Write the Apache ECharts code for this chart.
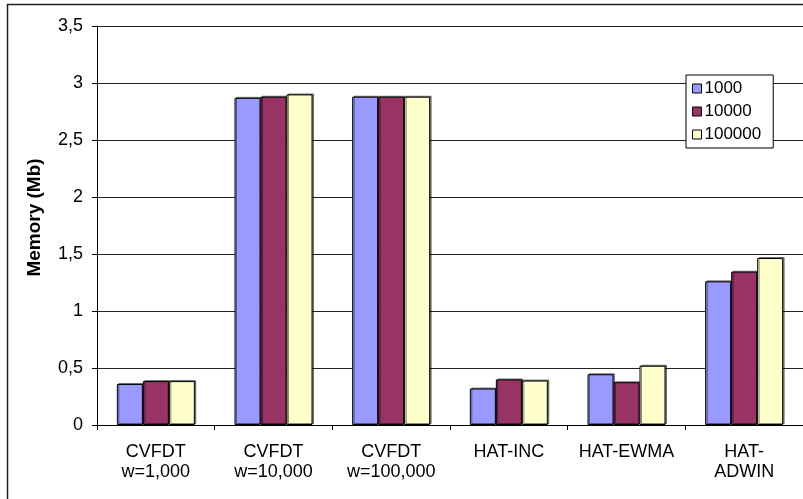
<!DOCTYPE html>
<html>
<head>
<meta charset="utf-8">
<script src="https://cdn.jsdelivr.net/npm/echarts@6/dist/echarts.min.js"></script>
<style>
html,body{margin:0;padding:0;background:#fff;}
#c{width:803px;height:499px;}
</style>
</head>
<body>
<div id="c"></div>
<script>
var categories = ['CVFDT\nw=1,000', 'CVFDT\nw=10,000', 'CVFDT\nw=100,000', 'HAT-INC', 'HAT-EWMA', 'HAT-\nADWIN'];
var seriesNames = ['1000', '10000', '100000'];
var s1000 = [0.36, 2.87, 2.88, 0.32, 0.445, 1.26];
var s10000 = [0.385, 2.88, 2.88, 0.40, 0.375, 1.345];
var s100000 = [0.385, 2.90, 2.88, 0.39, 0.52, 1.465];
var yTicks = [0, 0.5, 1, 1.5, 2, 2.5, 3, 3.5];

var colors = ['#9999FF', '#993366', '#FFFFCC'];
var font = 'Liberation Sans, Arial, sans-serif';
var chart = echarts.init(document.getElementById('c'), null, {renderer: 'canvas'});

function mk(name, data, i) {
  return {
    name: name, type: 'bar', data: data, barWidth: 26, barGap: '0%',
    itemStyle: {color: colors[i], borderColor: '#000', borderWidth: 1,
      shadowColor: 'rgba(0,0,0,0.45)', shadowOffsetX: 1.5, shadowOffsetY: -1, shadowBlur: 0}
  };
}

chart.setOption({
  animation: false,
  backgroundColor: '#fff',
  textStyle: {fontFamily: font},
  graphic: [{
    type: 'rect', shape: {x: 7.5, y: 4.5, width: 900, height: 600},
    style: {fill: 'none', stroke: '#222', lineWidth: 1.5}, z: 100, silent: true
  }],
  grid: {left: 97, top: 26, width: 708, height: 399},
  legend: {
    orient: 'vertical', left: 686, top: 75,
    backgroundColor: '#fff', borderColor: '#000', borderWidth: 1,
    padding: [5, 12, 5, 6],
    itemWidth: 9, itemHeight: 9, itemGap: 6,
    icon: 'rect',
    textStyle: {fontFamily: font, fontSize: 17, color: '#000', padding: [0, 0, 0, -2]},
    itemStyle: {borderColor: '#000', borderWidth: 1},
    data: seriesNames
  },
  xAxis: {
    type: 'category', data: categories,
    axisLine: {lineStyle: {color: '#000', width: 1}},
    axisTick: {show: true, length: 5, lineStyle: {color: '#000'}},
    axisLabel: {fontFamily: font, fontSize: 18, color: '#000', margin: 17, lineHeight: 20, interval: 0}
  },
  yAxis: {
    type: 'value', min: 0, max: 3.5, interval: 0.5,
    name: 'Memory (Mb)', nameLocation: 'middle', nameGap: 53, nameRotate: 90,
    nameTextStyle: {fontFamily: font, fontSize: 19, fontWeight: 'bold', color: '#000', padding: [0, 0, 0, 16]},
    axisLine: {show: true, lineStyle: {color: '#000', width: 1}},
    axisTick: {show: true, length: 5, lineStyle: {color: '#000'}},
    axisLabel: {fontFamily: font, fontSize: 18, color: '#000', margin: 14,
      formatter: function (v) { return String(v).replace('.', ','); }},
    splitLine: {show: true, lineStyle: {color: '#222', width: 1}}
  },
  series: [mk(seriesNames[0], s1000, 0), mk(seriesNames[1], s10000, 1), mk(seriesNames[2], s100000, 2)]
});
</script>
</body>
</html>
